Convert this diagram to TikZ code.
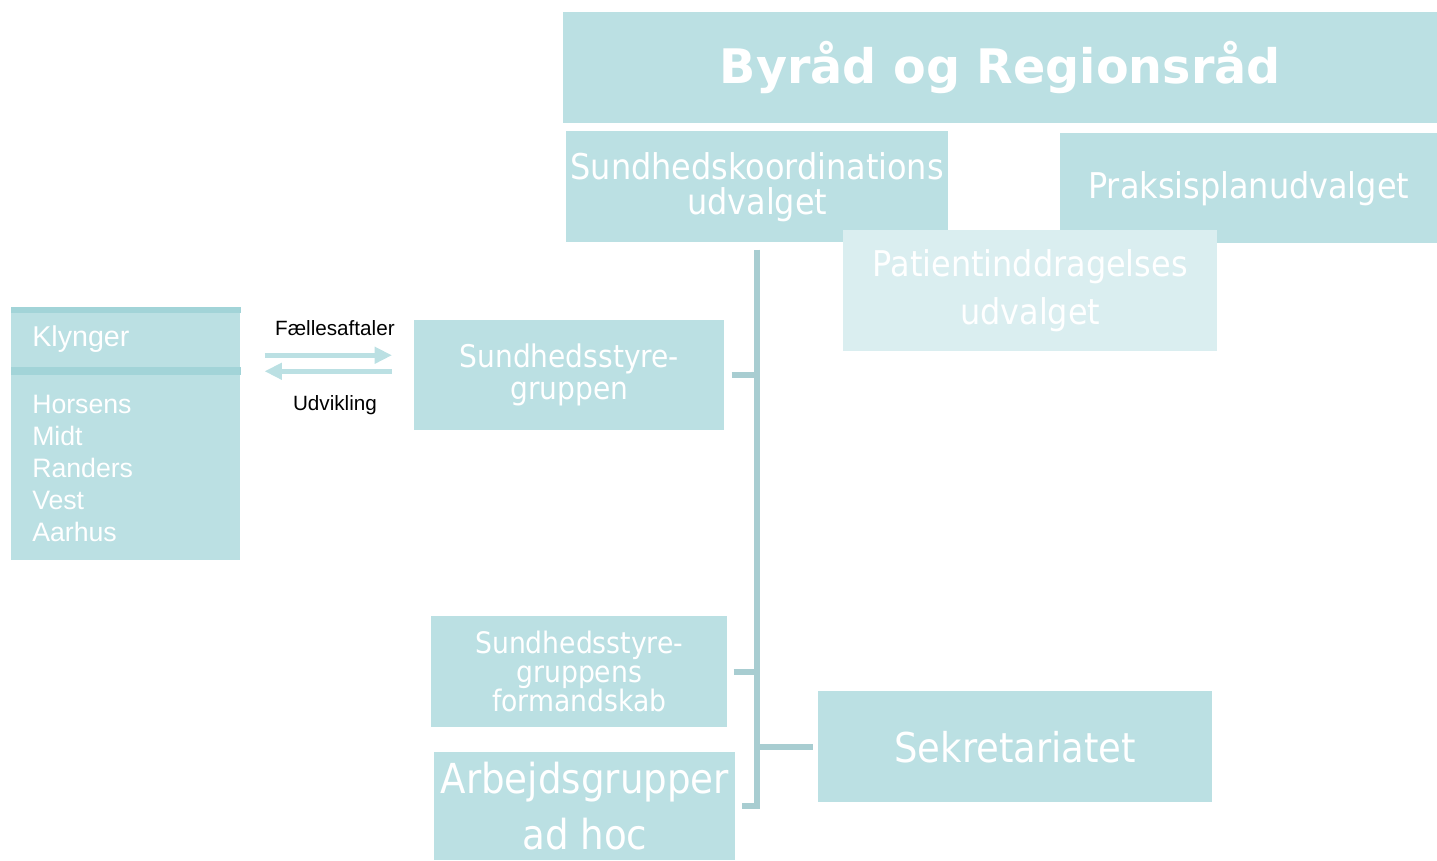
\documentclass[tikz,border=0pt]{standalone}
\usepackage{fontspec}
\setmainfont{Liberation Sans}
\newfontfamily\boxfont{DejaVu Sans Condensed}
\newfontfamily\titlefont{DejaVu Sans}
\usetikzlibrary{arrows.meta,calc}
\definecolor{boxteal}{HTML}{BBE0E3}
\definecolor{lightteal}{HTML}{DAEEF0}
\definecolor{striptea}{HTML}{A2D4D8}
\definecolor{spinegray}{HTML}{A8CDD1}

\begin{document}
\begin{tikzpicture}[x=0.75pt,y=-0.75pt,
    orgbox/.style={rectangle, fill=boxteal, text=white, inner sep=0pt, anchor=north west, align=center},
    spine/.style={draw=spinegray, line width=4.5pt},
    pil/.style={draw=boxteal, line width=3.75pt, -{Triangle[length=13pt,width=12pt]}}]
    \useasboundingbox (0,0) rectangle (1437,860);

    % top level
    \node[orgbox, minimum width=655.5pt, minimum height=83.25pt, font=\titlefont\bfseries\fontsize{35.7}{35.7}\selectfont] (byraad) at (563,12) {Byråd og Regionsråd};
    \node[orgbox, minimum width=286.5pt, minimum height=83.25pt, font=\boxfont\fontsize{26.6}{26.25}\selectfont] (sko) at (566,131) {Sundhedskoordinations\\udvalget};
    \node[orgbox, minimum width=282.75pt, minimum height=82.5pt, font=\boxfont\fontsize{26.6}{26.6}\selectfont] (praksis) at (1060,133) {Praksisplanudvalget};
    \node[orgbox, fill=lightteal, minimum width=280.5pt, minimum height=90.75pt, font=\boxfont\fontsize{26.6}{36}\selectfont] (patient) at (843,230) {Patientinddragelses\\udvalget};

    % under udvalget
    \node[orgbox, minimum width=232.5pt, minimum height=82.5pt, font=\boxfont\fontsize{23.4}{24}\selectfont] (styre) at (414,320) {Sundhedsstyre-\\gruppen};
    \node[orgbox, minimum width=222pt, minimum height=83.25pt, font=\boxfont\fontsize{22.2}{21.75}\selectfont] (formand) at (431,616) {Sundhedsstyre-\\gruppens\\formandskab};
    \node[orgbox, minimum width=225.75pt, minimum height=81pt, font=\boxfont\fontsize{31}{42}\selectfont] (arbejd) at (434,752) {Arbejdsgrupper\\ad hoc};
    \node[orgbox, minimum width=295.5pt, minimum height=83.25pt, font=\boxfont\fontsize{30.8}{30.8}\selectfont] (sek) at (818,691) {Sekretariatet};

    % klynger
    \node[orgbox, minimum width=171.75pt, minimum height=189.75pt] (klynger) at (11,307) {};
    \fill[striptea] (klynger.north west) rectangle ($(klynger.north east)+(0,6)$);
    \fill[striptea] ($(klynger.north west)+(0,60)$) rectangle ($(klynger.north east)+(0,68)$);
    \node[anchor=west, text=white, inner sep=0pt, font=\fontsize{21.5}{24}\selectfont] (klyngtitel) at ($(klynger.north west)+(21,32)$) {Klynger};
    \node[anchor=west, text=white, inner sep=0pt, align=left, font=\fontsize{20}{24}\selectfont] (klyngliste) at ($(klynger.north west)+(21,161)$) {Horsens\\Midt\\Randers\\Vest\\Aarhus};

    % spine
    \coordinate (top) at ($(sko.south)+(0,7)$);
    \draw[spine] (top) -- (top |- arbejd.east) -- ($(arbejd.east)+(6,0)$);
    \draw[spine] ($(styre.east)+(7,0)$) -- (styre.east -| top);
    \draw[spine] ($(formand.east)+(6,0)$) -- (formand.east -| top);
    \draw[spine] (sek.west -| top) -- ($(sek.west)+(-5,0)$);

    % pile
    \draw[pil] ($(klynger.east |- styre.west)+(24,-20)$) -- node[midway, xshift=5pt, yshift=20.25pt, text=black, font=\fontsize{15.5}{18}\selectfont] (faelles) {Fællesaftaler} ($(styre.west)+(-22,-20)$);
    \draw[pil] ($(styre.west)+(-22,-4)$) -- node[midway, xshift=5pt, yshift=-25.5pt, text=black, font=\fontsize{15.5}{18}\selectfont] (udvik) {Udvikling} ($(klynger.east |- styre.west)+(24,-4)$);
\end{tikzpicture}
\end{document}
